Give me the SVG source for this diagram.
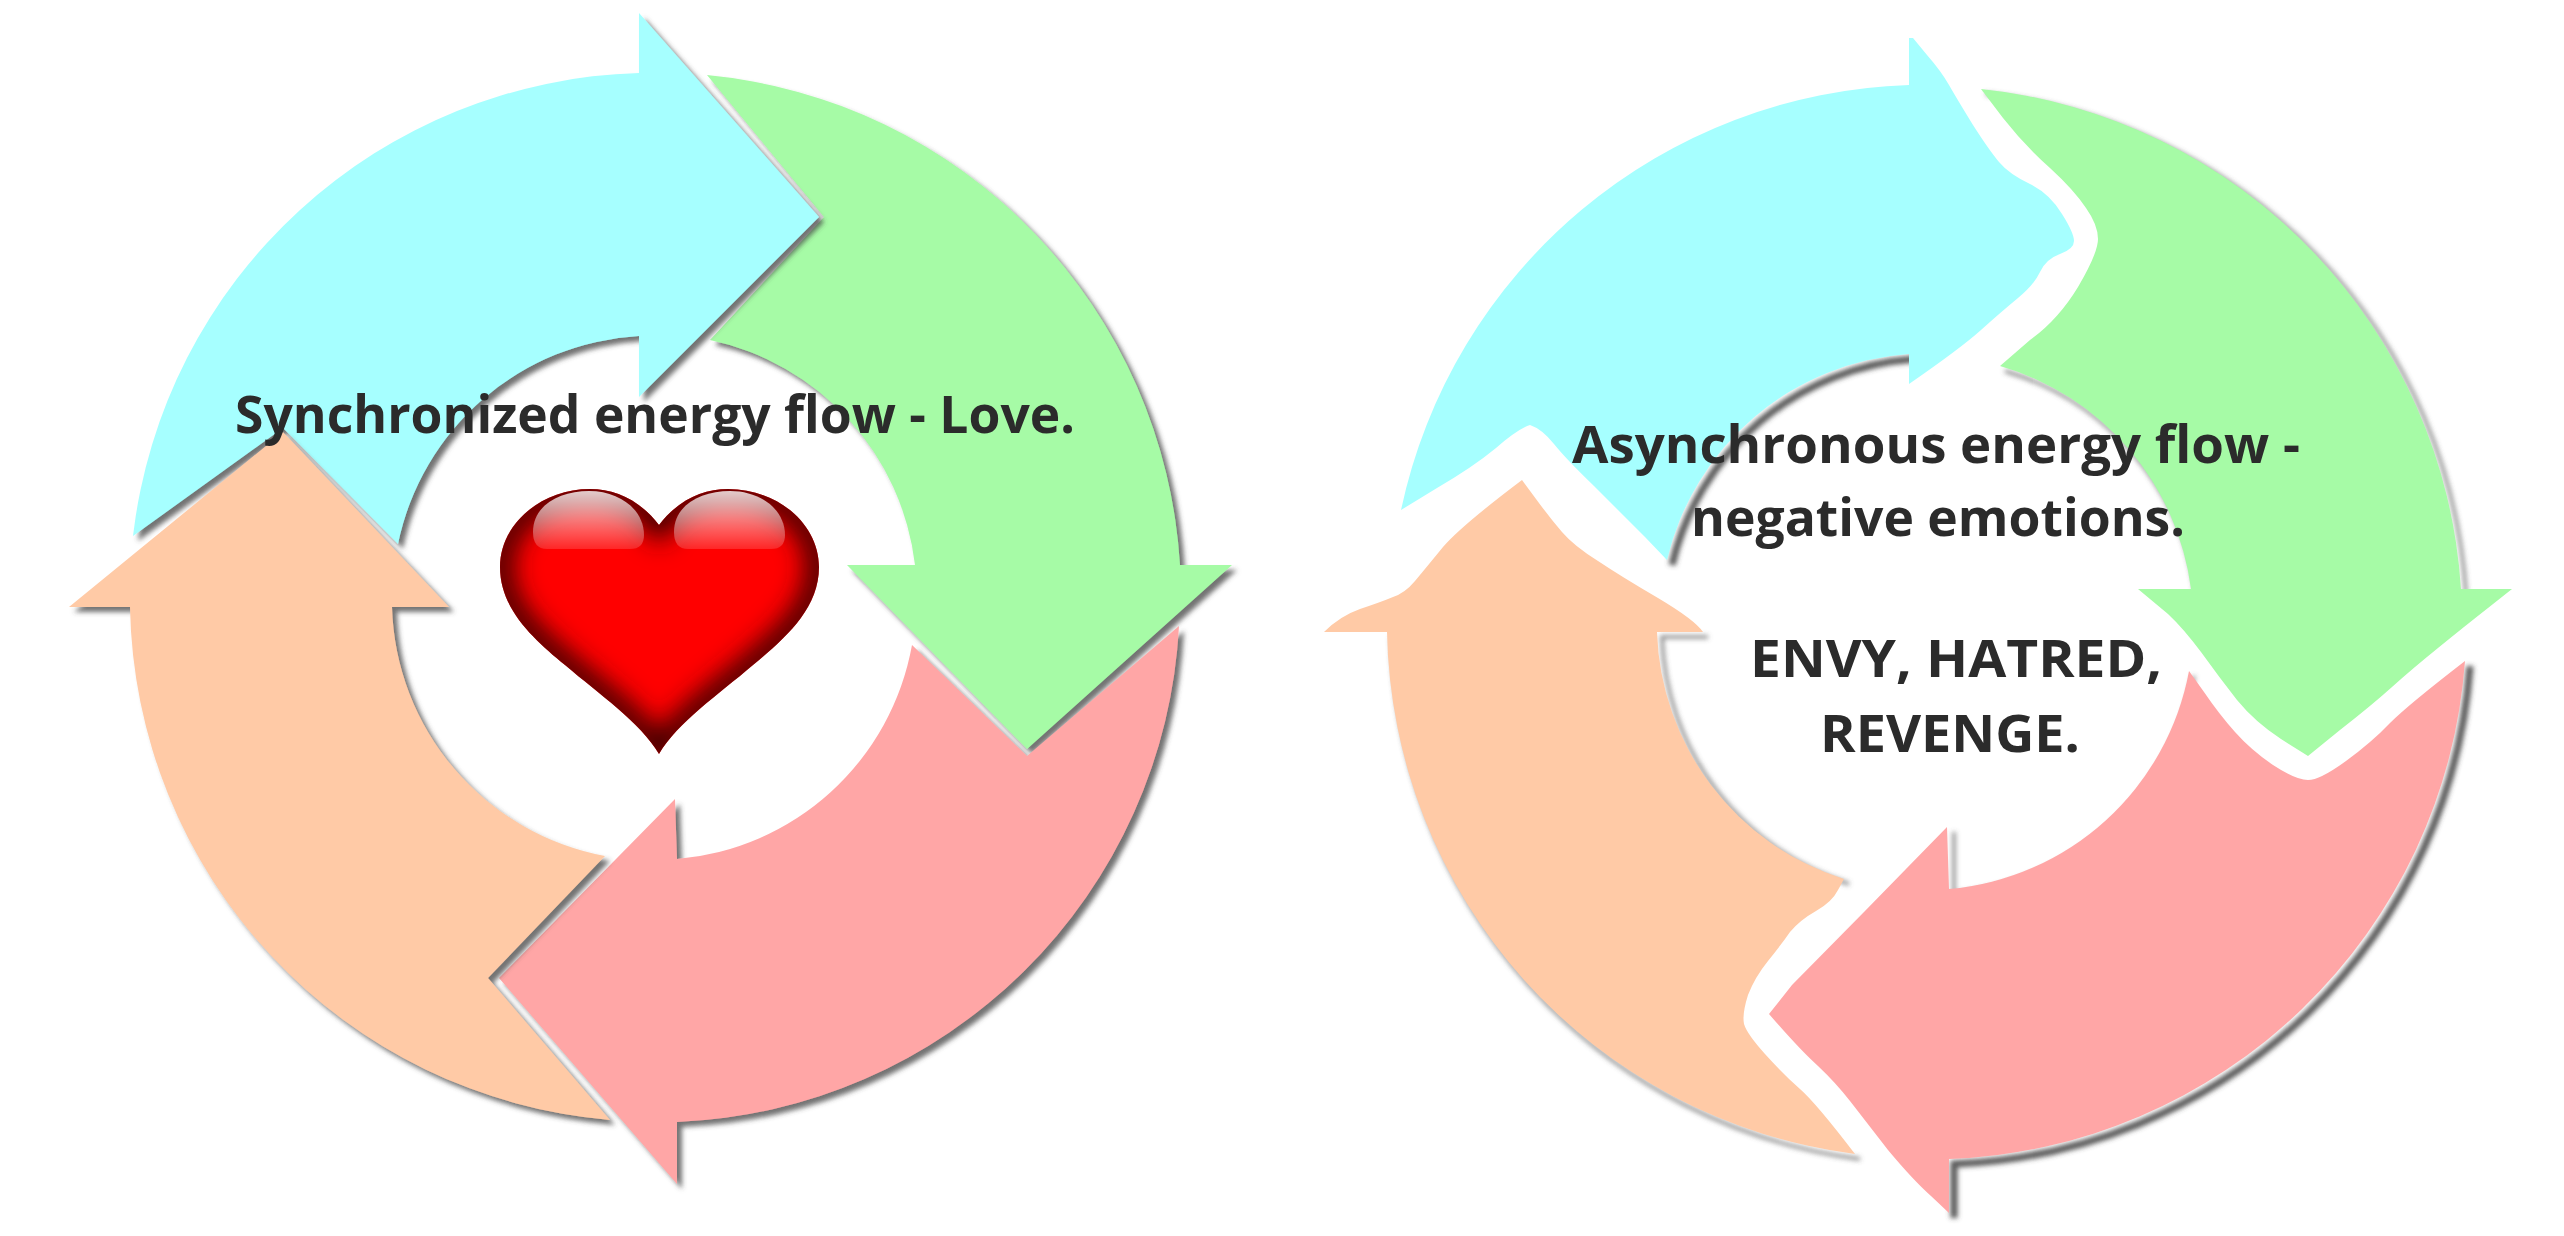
<svg xmlns="http://www.w3.org/2000/svg" width="2564" height="1236" viewBox="0 0 2564 1236">
<style>
.blue{fill:#a6ffff}.green{fill:#a6fba6}.orange{fill:#ffcaa6}.red{fill:#ffa6a6}
.sh{filter:url(#shadow)}
.rim{fill:none;stroke:#555;stroke-width:3;stroke-opacity:.8;filter:url(#soft)}
.rim.deep{stroke:#444;stroke-width:7;stroke-opacity:.9}
text{font-family:"Open Sans","Noto Sans","Liberation Sans",sans-serif;font-weight:700;fill:#2b2b2b;font-size:52px}
</style>
<defs>
<filter id="shadow" x="-10%" y="-10%" width="125%" height="125%"><feDropShadow dx="5" dy="5" stdDeviation="2.5" flood-color="#444" flood-opacity=".75"/></filter>
<filter id="soft" x="-10%" y="-10%" width="120%" height="120%"><feGaussianBlur stdDeviation="2.5"/></filter>
<filter id="bevel" x="-20%" y="-20%" width="140%" height="140%"><feGaussianBlur stdDeviation="13"/></filter>
<linearGradient id="gloss" x1="0" y1="0" x2="0" y2="1"><stop offset="0" stop-color="#fff" stop-opacity=".8"/><stop offset="1" stop-color="#fff" stop-opacity=".15"/></linearGradient>
<path id="heartShape" d="M659,525C640,500 615,489 590,489C540,489 500,525 500,567C500,610 535,640 565,665C600,695 640,722 659,754C678,722 718,695 753,665C783,640 819,610 819,567C819,525 779,489 728,489C703,489 678,500 659,525Z"/>
<clipPath id="heartClip"><use href="#heartShape"/></clipPath>
</defs>
<rect width="2564" height="1236" fill="#fff"/>

<g id="cycle-sync">
<g id="sync-green" class="sh"><path class="green" d="M707,75A524,524 0 0 1 1180,565L1232,565L1027,749L847,565L915,565A261,261 0 0 0 710,340L824,217Z"/></g>
<g id="sync-red" class="sh"><path class="red" d="M675,799L677,859A261,261 0 0 0 912,645L1027,756L1179,626A524,524 0 0 1 677,1122L677,1184L499,978Z"/></g>
<g id="sync-blue" class="sh"><path class="blue" d="M133,536A524,524 0 0 1 639,73L639,13L819,217L639,397L639,336A261,261 0 0 0 398,544L283,428Z"/></g>
<g id="sync-orange" class="sh"><path class="orange" d="M283,432L449,607L392,607A261,261 0 0 0 605,856L488,978L610,1120A524,524 0 0 1 130,607L69,607Z"/></g>
</g>

<g id="heart">
<use href="#heartShape" fill="#f00"/>
<g clip-path="url(#heartClip)"><use href="#heartShape" fill="none" stroke="#300000" stroke-width="24" filter="url(#bevel)"/></g>
<path fill="url(#gloss)" d="M547,549Q533,549 533,532C533,505 560,491 589,491C620,491 644,510 644,535Q644,549 630,549Z"/>
<path fill="url(#gloss)" d="M688,549Q674,549 674,532C674,505 701,491 730,491C761,491 785,510 785,535Q785,549 771,549Z"/>
</g>

<g id="cycle-async">
<g id="async-shadows" transform="translate(5,5)">
<path class="rim" d="M1981,89A537,537 0 0 1 2461,589"/>
<path class="rim deep" d="M2461,589L2512,589"/>
<path class="rim" d="M2191,589A268,268 0 0 0 2000,366"/>
<path class="rim deep" d="M2465,661A537,537 0 0 1 1949,1159L1949,1213"/>
<path class="rim" d="M1949,827L1949,889A268,268 0 0 0 2189,671"/>
<path class="rim" d="M1792,985L1864,912"/>
<path class="rim" d="M1909,38L1909,85"/>
<path class="rim deep" d="M1909,354A268,268 0 0 0 1667,560"/>
<path class="rim" d="M1855,1154A537,537 0 0 1 1387,632"/>
<path class="rim deep" d="M1387,632L1324,632"/>
<path class="rim" d="M1703,632L1657,632A268,268 0 0 0 1844,879"/>
</g>
<g id="async-green"><path class="green" d="M1981,89A537,537 0 0 1 2461,589L2512,589L2488,608Q2465,626 2438,648Q2412,669 2392,687Q2372,705 2340,730L2308,756L2281,739Q2255,722 2237,700Q2219,677 2201,652Q2183,628 2168,614L2138,589L2191,589A268,268 0 0 0 2000,366L2030,340Q2058,320 2078,287Q2098,253 2098,239Q2098,225 2086,208Q2074,190 2050,168Q2025,146 2003,118Z"/></g>
<g id="async-blue"><path class="blue" d="M1401,510A537,537 0 0 1 1909,85L1909,38L1913,38L1927,55Q1941,71 1949,85Q1957,99 1973,125Q1989,150 1999,162Q2009,174 2030,184Q2050,194 2062,214Q2074,233 2074,241Q2074,249 2060,254Q2046,259 2040,272Q2034,285 2018,298Q2001,312 1981,330Q1961,348 1909,384L1909,354A268,268 0 0 0 1667,560L1645,537Q1622,514 1594,486Q1566,459 1554,444Q1542,429 1530,425Q1518,429 1496,448Q1473,467 1437,488Z"/></g>
<g id="async-orange"><path class="orange" d="M1324,632Q1340,616 1360,609Q1381,602 1393,597Q1405,593 1415,581Q1425,569 1443,547Q1461,526 1522,480L1536,499Q1550,518 1562,532Q1574,546 1598,561Q1622,577 1658,598Q1695,620 1703,632L1657,632A268,268 0 0 0 1844,879L1838,890Q1832,902 1816,911Q1800,920 1790,932Q1781,945 1768,961Q1755,977 1748,995Q1742,1014 1744,1024Q1747,1034 1765,1054Q1784,1075 1800,1089Q1816,1103 1855,1154A537,537 0 0 1 1387,632Z"/></g>
<g id="async-red"><path class="red" d="M1947,827L1949,889A268,268 0 0 0 2189,671L2204,692Q2219,714 2235,732Q2251,750 2273,765Q2296,780 2308,780Q2320,780 2346,761Q2372,742 2390,723Q2408,705 2465,661A537,537 0 0 1 1949,1159L1949,1213L1931,1196Q1913,1180 1888,1150Q1864,1119 1850,1101Q1836,1083 1818,1066Q1800,1050 1769,1014L1792,985L1864,912Z"/></g>
</g>

<g id="labels">
<text x="235" y="433" textLength="840" lengthAdjust="spacingAndGlyphs">Synchronized energy flow - Love.</text>
<text x="1572" y="463" textLength="728" lengthAdjust="spacingAndGlyphs">Asynchronous energy flow -</text>
<text x="1691" y="536" textLength="494" lengthAdjust="spacingAndGlyphs">negative emotions.</text>
<text x="1750" y="677" textLength="412" lengthAdjust="spacingAndGlyphs">ENVY, HATRED,</text>
<text x="1820" y="752" textLength="260" lengthAdjust="spacingAndGlyphs">REVENGE.</text>
</g>
</svg>
